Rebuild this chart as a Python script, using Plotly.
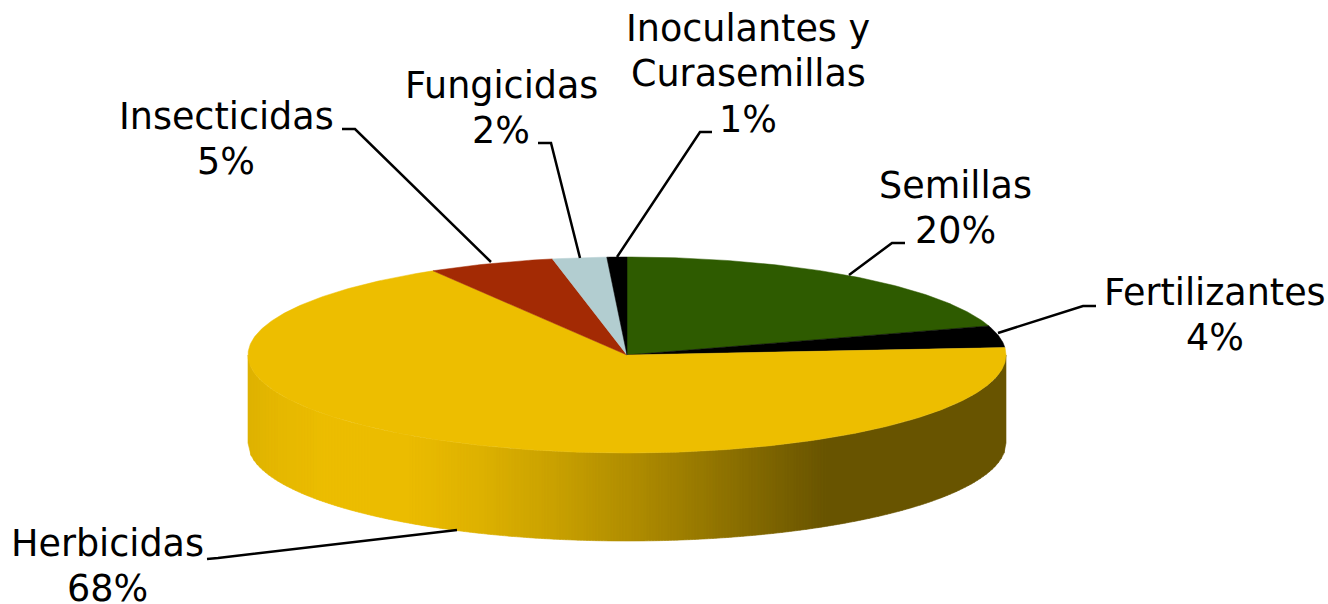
import numpy as np
import plotly.graph_objects as go

# Data (clockwise from 12 o'clock)
categories = ["Semillas", "Fertilizantes", "Herbicidas", "Insecticidas", "Fungicidas", "Inoculantes y Curasemillas"]
values = [20.2, 3.6, 67.65, 5.4, 2.3, 0.85]
colors = ["#2E5B00", "#000000", "#EDBE00", "#A32A04", "#B2CDD0", "#000000"]

# label lines and positions (canvas pixels)
label_lines = [["Semillas"], ["Fertilizantes"], ["Herbicidas"], ["Insecticidas"], ["Fungicidas"], ["Inoculantes y", "Curasemillas"]]
label_pos = [(955, 185), (1215, 292), (107, 543), (226, 116), (501, 85), (748, 28)]
LINE_STEP = 45.5
leaders = [
    [(905, 243), (892, 243), (849, 275)],
    [(1096, 306), (1083, 306), (998, 333)],
    [(207, 559), (218, 558), (457, 530)],
    [(342, 129), (355, 129), (491, 262)],
    [(538, 143), (551, 143), (580, 258)],
    [(712, 132), (700, 132), (617, 257)],
]

# geometry of the drawn disc
CX, CY, RX, RY, DEPTH = 627, 355, 379, 98, 88
FONT = "DejaVu Sans"
FONT_SIZE = 36.5

# shading of the side wall
shade_x = [248, 270, 330, 410, 480, 560, 640, 720, 780, 830, 1006]
shade_r = [222, 228, 237, 235, 222, 200, 174, 145, 122, 104, 104]
shade_g = [178, 183, 190, 188, 178, 160, 139, 116, 98, 84, 84]

fig = go.Figure()

# Side wall: thin strips following the front half of the ellipse
edges = np.arange(CX - RX, CX + RX + 3, 3.0)
edges = np.clip(edges, CX - RX, CX + RX)
for x0, x1 in zip(edges[:-1], edges[1:]):
    if x1 <= x0:
        continue
    y0 = CY + RY * np.sqrt(max(0.0, 1 - ((x0 - CX) / RX) ** 2))
    y1 = CY + RY * np.sqrt(max(0.0, 1 - ((x1 - CX) / RX) ** 2))
    xm = (x0 + x1) / 2
    r = int(np.interp(xm, shade_x, shade_r))
    g = int(np.interp(xm, shade_x, shade_g))
    c = f"rgb({r},{g},0)"
    fig.add_trace(go.Scatter(
        x=[x0, x1, x1, x0, x0], y=[y0, y1, y1 + DEPTH, y0 + DEPTH, y0],
        mode="lines", fill="toself", fillcolor=c, line=dict(color=c, width=0.6),
        hoverinfo="skip", showlegend=False))

# Top face: slices drawn from the values
total = sum(values)
start = 0.0
for name, v, col in zip(categories, values, colors):
    end = start + v / total * 2 * np.pi
    t = np.linspace(start, end, max(8, int(v * 6)))
    xs = np.concatenate([[CX], CX + RX * np.sin(t), [CX]])
    ys = np.concatenate([[CY], CY - RY * np.cos(t), [CY]])
    fig.add_trace(go.Scatter(
        x=xs, y=ys, mode="lines", fill="toself", fillcolor=col,
        line=dict(color=col, width=0.5), name=name,
        hovertemplate=f"{name}: {round(v)}%<extra></extra>", showlegend=False))
    start = end

# Leader lines
for pts in leaders:
    fig.add_trace(go.Scatter(
        x=[p[0] for p in pts], y=[p[1] for p in pts], mode="lines",
        line=dict(color="#000000", width=2.5), hoverinfo="skip", showlegend=False))

# Labels
annotations = []
for lines, (lx, ly), v in zip(label_lines, label_pos, values):
    for i, txt in enumerate(lines + [f"{round(v)}%"]):
        annotations.append(dict(
            x=lx, y=ly + i * LINE_STEP, xref="x", yref="y", text=txt, showarrow=False,
            xanchor="center", yanchor="middle",
            font=dict(family=FONT, size=FONT_SIZE, color="#000000")))

fig.update_layout(
    width=1328, height=604, margin=dict(l=0, r=0, t=0, b=0),
    paper_bgcolor="white", plot_bgcolor="white", showlegend=False,
    xaxis=dict(range=[0, 1328], visible=False, fixedrange=True),
    yaxis=dict(range=[604, 0], visible=False, fixedrange=True),
    annotations=annotations)

fig.write_html("out.html", config={"displayModeBar": False},
               post_script="document.body.style.margin='0';document.body.style.overflow='hidden';")
